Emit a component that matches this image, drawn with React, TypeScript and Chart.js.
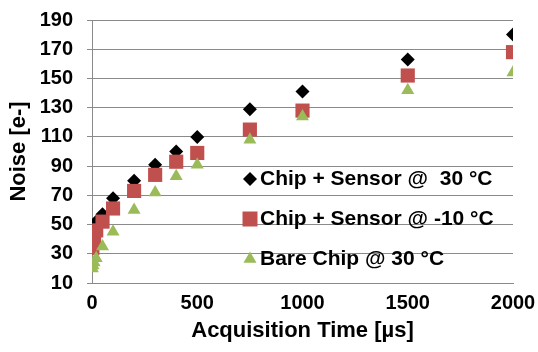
import React, { useEffect, useRef } from "react";
import { Chart, registerables } from "chart.js";

Chart.register(...registerables);

const acqTimes = [2, 5, 10, 20, 50, 100, 200, 300, 400, 500, 750, 1000, 1500, 2000];
const chipSensor30 = [40, 44, 48, 52, 57, 68, 80, 91, 100, 110, 129, 141, 163, 180];
const chipSensorM10 = [34, 38, 42, 46, 52, 61, 73, 84, 93, 99, 115, 128, 152, 168];
const bareChip30 = [20, 22, 24, 27, 35, 45, 60, 72, 83, 91, 108, 124, 142, 154];
const seriesLabels = ["Chip + Sensor @  30 °C", "Chip + Sensor @ -10 °C", "Bare Chip @ 30 °C"];
const xTitle = "Acquisition Time [µs]";
const yTitle = "Noise [e-]";

const FONT = "'Liberation Sans', Arial, sans-serif";
const GRID = "#8a8a8a";

const legendPlugin = {
  id: "insideLegend",
  afterDraw(chart: any) {
    const ctx = chart.ctx;
    const rows = [179, 219, 259];
    const mx = 250;
    const tx = 260;
    ctx.save();
    chart.data.datasets.forEach((ds: any, i: number) => {
      const y = rows[i];
      ctx.fillStyle = ds.backgroundColor;
      ctx.beginPath();
      if (ds.pointStyle === "rectRot") {
        const r = 7;
        ctx.moveTo(mx - r, y);
        ctx.lineTo(mx, y - r);
        ctx.lineTo(mx + r, y);
        ctx.lineTo(mx, y + r);
      } else if (ds.pointStyle === "rect") {
        const s = 7.5;
        ctx.rect(mx - s, y - s, 2 * s, 2 * s);
      } else {
        const r = 7.5;
        ctx.moveTo(mx, y - r);
        ctx.lineTo(mx + r * Math.sin((2 * Math.PI) / 3), y + r / 2);
        ctx.lineTo(mx - r * Math.sin((2 * Math.PI) / 3), y + r / 2);
      }
      ctx.closePath();
      ctx.fill();
      ctx.fillStyle = "#000";
      ctx.font = `bold 21px ${FONT}`;
      ctx.textBaseline = "middle";
      ctx.textAlign = "left";
      ctx.fillText(ds.label, tx, y);
    });
    ctx.restore();
  },
};

export default function App() {
  const ref = useRef<HTMLCanvasElement | null>(null);
  useEffect(() => {
    if (!ref.current) return;
    const mk = (vals: number[]) => acqTimes.map((x, i) => ({ x, y: vals[i] }));
    const chart = new Chart(ref.current, {
      type: "scatter",
      data: {
        datasets: [
          {
            label: seriesLabels[0],
            data: mk(chipSensor30),
            pointStyle: "rectRot",
            pointRadius: 7,
            backgroundColor: "#000000",
            borderColor: "#000000",
            borderWidth: 0,
            order: 3,
          },
          {
            label: seriesLabels[1],
            data: mk(chipSensorM10),
            pointStyle: "rect",
            pointRadius: 10,
            backgroundColor: "#C0504D",
            borderColor: "#C0504D",
            borderWidth: 0,
            order: 2,
          },
          {
            label: seriesLabels[2],
            data: mk(bareChip30),
            pointStyle: "triangle",
            pointRadius: 7.5,
            backgroundColor: "#9BBB59",
            borderColor: "#9BBB59",
            borderWidth: 0,
            order: 1,
          },
        ],
      },
      options: {
        responsive: false,
        animation: false,
        layout: { padding: { top: 20, right: 25, left: 0, bottom: 0 } },
        plugins: { legend: { display: false }, tooltip: { enabled: false } },
        scales: {
          x: {
            type: "linear",
            min: 0,
            max: 2000,
            ticks: {
              stepSize: 500,
              color: "#000",
              font: { family: FONT, size: 20, weight: "bold" },
              padding: 8,
              maxRotation: 0,
              callback: (v: any) => String(v),
            },
            grid: { display: false, drawTicks: false },
            border: { display: true, color: GRID, width: 1 },
            title: {
              display: true,
              text: xTitle,
              color: "#000",
              font: { family: FONT, size: 22, weight: "bold" },
              padding: { top: 0, bottom: 8 },
            },
            afterFit: (s: any) => {
              s.height = 69;
              s.paddingLeft = 0;
              s.paddingRight = 0;
            },
          },
          y: {
            type: "linear",
            min: 10,
            max: 190,
            ticks: {
              stepSize: 20,
              color: "#000",
              font: { family: FONT, size: 20, weight: "bold" },
              padding: 14,
            },
            grid: { color: GRID, lineWidth: 1, tickLength: 5, drawTicks: true },
            border: { display: true, color: GRID, width: 1 },
            title: {
              display: true,
              text: yTitle,
              color: "#000",
              font: { family: FONT, size: 22, weight: "bold" },
              padding: { top: 6, bottom: 0 },
            },
            afterFit: (s: any) => {
              s.width = 92;
              s.paddingTop = 0;
              s.paddingBottom = 0;
            },
          },
        },
      },
      plugins: [legendPlugin],
    });
    return () => chart.destroy();
  }, []);
  return (
    <div style={{ position: "fixed", left: 0, top: 0, width: 538, height: 352, background: "#fff" }}>
      <canvas ref={ref} width={538} height={352} style={{ display: "block" }} />
    </div>
  );
}
